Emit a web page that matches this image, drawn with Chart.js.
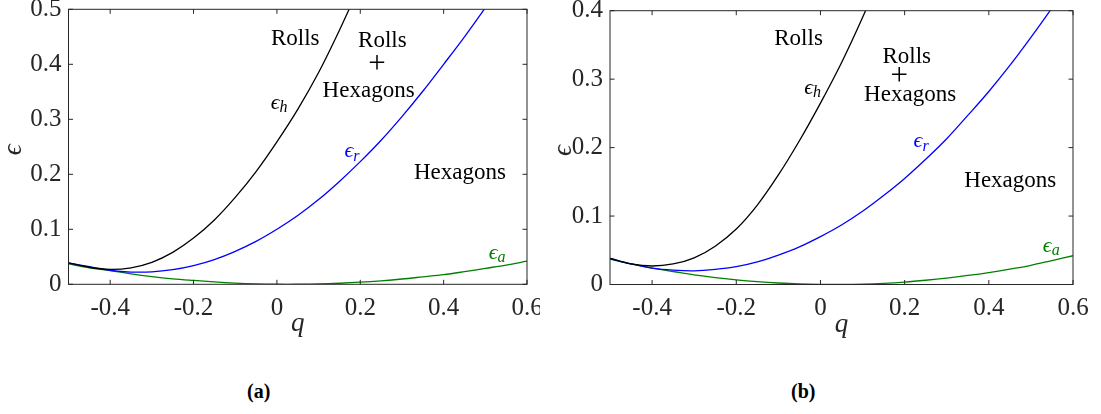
<!DOCTYPE html>
<html>
<head>
<meta charset="utf-8">
<script src="https://cdn.jsdelivr.net/npm/chart.js@4.4.1/dist/chart.umd.min.js"></script>
<style>
  body { margin: 0; background: #fff; width: 1101px; height: 414px; position: relative; overflow: hidden; }
  .panel { position: absolute; top: 0; height: 345px; overflow: hidden; }
  .panel canvas { position: absolute; top: -20px; left: 0; }
  .caption { position: absolute; top: 380px; font: bold 20px "Liberation Serif", "DejaVu Serif", serif; color: #000; }
</style>
</head>
<body>
<div class="panel" style="left: 0px; width: 540px;"><canvas id="chartA" width="570" height="365"></canvas></div>
<div class="panel" style="left: 550px; width: 551px;"><canvas id="chartB" width="551" height="365"></canvas></div>
<div class="caption" style="left: 247px;">(a)</div>
<div class="caption" style="left: 791px;">(b)</div>

<script>
// q grid the curves were read at
const qValues = [-0.5, -0.45, -0.4, -0.35, -0.3, -0.25, -0.2, -0.15, -0.1, -0.05, 0,
  0.05, 0.1, 0.15, 0.2, 0.25, 0.3, 0.35, 0.4, 0.45, 0.5, 0.55, 0.6];

// panel (a)
const epsHA = [0.039, 0.031, 0.027, 0.030, 0.040, 0.058, 0.084, 0.117, 0.158, 0.205, 0.259,
  0.318, 0.385, 0.462, 0.545];
const epsRA = [0.039, 0.032, 0.0255, 0.0223, 0.0226, 0.0266, 0.0341, 0.045, 0.060, 0.078, 0.100,
  0.125, 0.154, 0.187, 0.223, 0.262, 0.305, 0.351, 0.400, 0.450, 0.503, 0.560];
const epsAA = [0.037, 0.030, 0.025, 0.019, 0.014, 0.010, 0.007, 0.0043, 0.0022, 0.0008, 0.0001,
  0.0001, 0.0006, 0.0019, 0.0038, 0.0064, 0.0096, 0.0135, 0.0175, 0.023, 0.029, 0.035, 0.042];

// panel (b)
const epsHB = [0.038, 0.030, 0.027, 0.030, 0.039, 0.056, 0.081, 0.116, 0.160, 0.210, 0.265,
  0.324, 0.390, 0.462];
const epsRB = [0.038, 0.030, 0.024, 0.021, 0.020, 0.022, 0.026, 0.033, 0.043, 0.055, 0.070,
  0.087, 0.107, 0.130, 0.155, 0.183, 0.213, 0.247, 0.282, 0.320, 0.361, 0.404, 0.450];
const epsAB = [0.037, 0.030, 0.024, 0.019, 0.014, 0.010, 0.0068, 0.0042, 0.0022, 0.0008, 0.0001,
  0.0, 0.0004, 0.0016, 0.0035, 0.0062, 0.0094, 0.0132, 0.0175, 0.0225, 0.028, 0.035, 0.042];

const xTicks = [-0.4, -0.2, 0, 0.2, 0.4, 0.6];
const yTicksA = [0, 0.1, 0.2, 0.3, 0.4, 0.5];
const yTicksB = [0, 0.1, 0.2, 0.3, 0.4];

// region labels [text, q, eps]
const regionsA = [["Rolls", 0.044, 0.446], ["Rolls", 0.253, 0.443], ["+", 0.240, 0.399],
  ["Hexagons", 0.220, 0.352], ["Hexagons", 0.439, 0.202]];
const regionsB = [["Rolls", -0.052, 0.358], ["Rolls", 0.205, 0.332], ["+", 0.187, 0.303],
  ["Hexagons", 0.213, 0.277], ["Hexagons", 0.451, 0.151]];
// curve labels [subscript, q, eps, colour]
const curveLabelsA = [["h", 0.004, 0.326, "#000000"], ["r", 0.181, 0.238, "#0000ff"], ["a", 0.527, 0.053, "#008000"]];
const curveLabelsB = [["h", -0.020, 0.284, "#000000"], ["r", 0.240, 0.206, "#0000ff"], ["a", 0.547, 0.053, "#008000"]];

const AXIS = "#262626";
const SERIF = '"Liberation Serif", "DejaVu Serif", serif';

function toPoints(arr) {
  return arr.map((v, i) => ({ x: qValues[i], y: v }));
}

function line(data, color) {
  return {
    data: toPoints(data),
    borderColor: color,
    borderWidth: 1.3,
    pointRadius: 0,
    fill: false,
    tension: 0.35,
  };
}

// box, inward ticks, axis titles and text labels, drawn on top like MATLAB
const framePlugin = {
  id: "frame",
  afterDatasetsDraw(chart, args, opts) {
    const { ctx, chartArea: a, scales } = chart;
    const xs = scales.x, ys = scales.y;
    ctx.save();
    ctx.strokeStyle = AXIS;
    ctx.lineWidth = 1;
    ctx.strokeRect(a.left, a.top, a.right - a.left, a.bottom - a.top);
    const tl = 4.5;
    ctx.beginPath();
    xTicks.forEach((v) => {
      const px = xs.getPixelForValue(v);
      ctx.moveTo(px, a.bottom); ctx.lineTo(px, a.bottom - tl);
      ctx.moveTo(px, a.top); ctx.lineTo(px, a.top + tl);
    });
    opts.yTicks.forEach((v) => {
      const py = ys.getPixelForValue(v);
      ctx.moveTo(a.left, py); ctx.lineTo(a.left + tl, py);
      ctx.moveTo(a.right, py); ctx.lineTo(a.right - tl, py);
    });
    ctx.stroke();

    // axis titles
    ctx.fillStyle = AXIS;
    ctx.textAlign = "center";
    ctx.textBaseline = "middle";
    ctx.font = "italic 27px " + SERIF;
    ctx.fillText("q", (a.left + a.right) / 2, a.bottom + 40);
    ctx.save();
    ctx.translate(14, (a.top + a.bottom) / 2 + 3);
    ctx.rotate(-Math.PI / 2);
    ctx.font = "italic 27px " + SERIF;
    ctx.fillText("\u03F5", 0, 0);
    ctx.restore();

    // region labels; the "+" is set larger like the LaTeX one
    ctx.fillStyle = "#000";
    opts.regions.forEach(([t, q, e]) => {
      ctx.font = (t === "+" ? "300 31px " : "23px ") + SERIF;
      ctx.fillText(t, xs.getPixelForValue(q), ys.getPixelForValue(e));
    });

    // curve labels: epsilon with italic subscript
    opts.curves.forEach(([sub, q, e, c]) => {
      const px = xs.getPixelForValue(q), py = ys.getPixelForValue(e);
      ctx.fillStyle = c;
      ctx.textAlign = "right";
      ctx.font = "italic 22px " + SERIF;
      ctx.fillText("\u03F5", px + 1, py - 2);
      ctx.textAlign = "left";
      ctx.font = "italic 16px " + SERIF;
      ctx.fillText(sub, px + 1, py + 3);
    });
    ctx.restore();
  },
};

function makeChart(id, datasets, yMax, yTicks, yWidth, xHeight, padTop, padRight, regions, curves) {
  return new Chart(document.getElementById(id), {
    type: "line",
    data: { datasets },
    options: {
      responsive: false,
      animation: false,
      layout: { autoPadding: false, padding: { left: 0, top: padTop, right: padRight, bottom: 0 } },
      plugins: {
        legend: { display: false },
        tooltip: { enabled: false },
        frame: { yTicks, regions, curves },
      },
      scales: {
        x: {
          type: "linear",
          min: -0.5,
          max: 0.6,
          grid: { display: false, drawTicks: false },
          border: { display: false },
          afterBuildTicks: (s) => { s.ticks = xTicks.map((v) => ({ value: v })); },
          afterFit: (s) => { s.height = xHeight; },
          ticks: {
            color: AXIS,
            padding: 9,
            maxRotation: 0,
            autoSkip: false,
            font: { family: SERIF, size: 25 },
            callback: (v) => (v === 0 ? "0" : v.toFixed(1)),
          },
        },
        y: {
          type: "linear",
          min: 0,
          max: yMax,
          grid: { display: false, drawTicks: false },
          border: { display: false },
          afterBuildTicks: (s) => { s.ticks = yTicks.map((v) => ({ value: v })); },
          afterFit: (s) => { s.width = yWidth; },
          ticks: {
            color: AXIS,
            padding: 7,
            autoSkip: false,
            font: { family: SERIF, size: 25 },
            callback: (v) => (v === 0 ? "0" : v.toFixed(1)),
          },
        },
      },
    },
    plugins: [framePlugin],
  });
}

// canvases sit 20px above the page top so the top tick labels never force extra padding
makeChart("chartA",
  [line(epsHA, "#000000"), line(epsRA, "#0000ff"), line(epsAA, "#008000")],
  0.5, yTicksA, 68.5, 60.7, 29.3, 43, regionsA, curveLabelsA);

makeChart("chartB",
  [line(epsHB, "#000000"), line(epsRB, "#0000ff"), line(epsAB, "#008000")],
  0.4, yTicksB, 60, 60.5, 30.7, 28, regionsB, curveLabelsB);
</script>
</body>
</html>
